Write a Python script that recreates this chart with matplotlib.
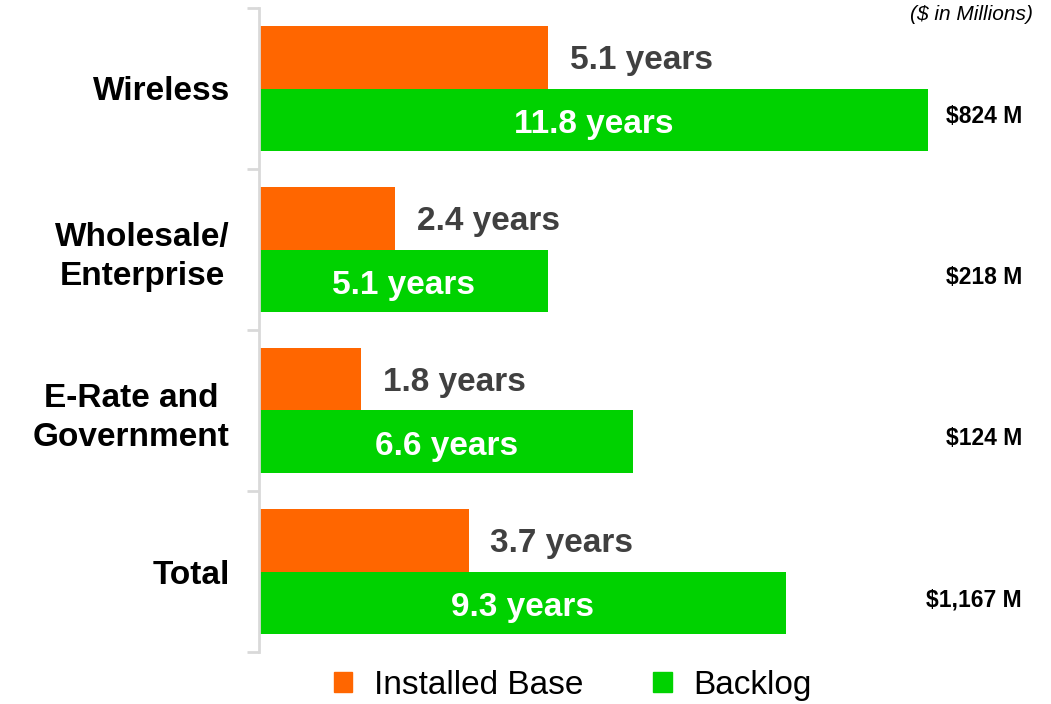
import matplotlib.pyplot as plt
from matplotlib.patches import Patch
from matplotlib.ticker import FixedLocator, NullFormatter

plt.rcParams['font.family'] = ['Liberation Sans', 'DejaVu Sans']

# data
categories = ['Wireless', 'Wholesale/\nEnterprise', 'E-Rate and\nGovernment', 'Total']
installed_base = [5.1, 2.4, 1.8, 3.7]
backlog = [11.8, 5.1, 6.6, 9.3]
dollar_labels = ['$824 M', '$218 M', '$124 M', '$1,167 M']

orange = '#FF6600'
green = '#00D200'

fig = plt.figure(figsize=(10.51, 7.04), dpi=100)
W, H = 1051, 704
ax = fig.add_axes([259 / W, 1 - 652 / H, (1030 - 259) / W, (652 - 8) / H])

y = list(range(len(categories)))
h = 0.39
ax.barh([i - h / 2 for i in y], installed_base, height=h, color=orange)
ax.barh([i + h / 2 for i in y], backlog, height=h, color=green)

xmax = (1030 - 259) / 56.7
ax.set_xlim(0, xmax)
ax.set_ylim(3.5, -0.5)

for i in y:
    ax.text(installed_base[i] + 0.38, i - h / 2 + 0.02, f'{installed_base[i]} years',
            ha='left', va='center', fontsize=24, fontweight='bold', color='#404040')
    ax.text(backlog[i] / 2, i + h / 2 + 0.03, f'{backlog[i]} years',
            ha='center', va='center', fontsize=24, fontweight='bold', color='white')
    ax.text(1022 / 56.7 - 259 / 56.7, i + h / 2 - 0.02, dollar_labels[i],
            ha='right', va='center', fontsize=16.5, fontweight='bold', color='black')

ax.text(1033 / 56.7 - 259 / 56.7, -0.46, '($ in Millions)', ha='right', va='center',
        fontsize=15, fontstyle='italic', color='black', clip_on=False)

ax.set_yticks(y)
ax.set_yticklabels(categories, fontsize=24, fontweight='bold', multialignment='center',
                   linespacing=1.35)
ax.tick_params(axis='y', which='major', length=0, pad=21)
ax.yaxis.set_minor_locator(FixedLocator([-0.5, 0.5, 1.5, 2.5, 3.5]))
ax.yaxis.set_minor_formatter(NullFormatter())
ax.tick_params(axis='y', which='minor', length=9, width=2, color='#D9D9D9')

ax.set_xticks([])
for s in ['top', 'right', 'bottom']:
    ax.spines[s].set_visible(False)
ax.spines['left'].set_color('#D9D9D9')
ax.spines['left'].set_linewidth(2)

handles = [Patch(color=orange, label='Installed Base'), Patch(color=green, label='Backlog')]
fig.legend(handles=handles, loc='center', bbox_to_anchor=(0.545, 0.026), ncol=2,
           frameon=False, fontsize=24, handlelength=0.55, handleheight=0.55,
           handletextpad=0.65, columnspacing=2.1)

fig.savefig('out.png', dpi=100)
